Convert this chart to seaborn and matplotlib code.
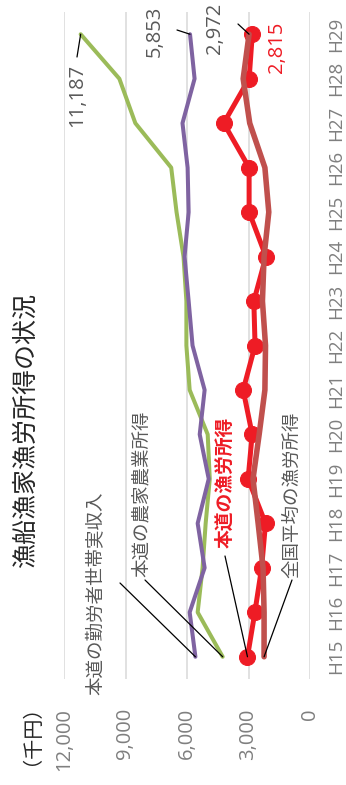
import numpy as np
import pandas as pd
import matplotlib
matplotlib.use("Agg")
import matplotlib.pyplot as plt
import seaborn as sns

# ---- data (千円) ----
years = ["H15", "H16", "H17", "H18", "H19", "H20", "H21", "H22",
         "H23", "H24", "H25", "H26", "H27", "H28", "H29"]
farm_income = [4260, 5480, 5240, 5090, 4890, 4990, 5870, 6030,
               6030, 6170, 6510, 6770, 8520, 9300, 11187]
worker_income = [5590, 5870, 5140, 5480, 4940, 5380, 5140, 5730,
                 5920, 6120, 5920, 5970, 6220, 5630, 5853]
hokkaido_fishing = [3050, 2690, 2360, 2170, 3020, 2820, 3260, 2680,
                    2740, 2150, 2970, 2970, 4210, 2970, 2815]
national_fishing = [2240, 2240, 2290, 2530, 2780, 2480, 2200, 2170,
                    2320, 2240, 2010, 2200, 2940, 3260, 2972]
value_ticks = [0, 3000, 6000, 9000, 12000]

series_names = ["本道の農家農業所得", "本道の勤労者世帯実収入",
                "本道の漁労所得", "全国平均の漁労所得"]

W, H = 346, 785
sns.set_style("white")
plt.rcParams["font.family"] = ["Open Sans", "Noto Sans CJK JP", "DejaVu Sans"]

fig = plt.figure(figsize=(W / 100, H / 100), dpi=100)
ax = fig.add_axes([64 / W, (H - 679) / H, (310 - 64) / W, (679 - 12) / H])

pos = np.arange(len(years))
df = pd.DataFrame({"pos": pos, "farm": farm_income, "worker": worker_income,
                   "hk": hokkaido_fishing, "nat": national_fishing})

GREEN, PURPLE, RED, BROWN = "#9BBB59", "#7F63A1", "#EE1C25", "#C0504D"
common = dict(ax=ax, sort=False, estimator=None, orient="y")
sns.lineplot(data=df, x="farm", y="pos", color=GREEN, lw=2.9,
             solid_joinstyle="round", **common)
sns.lineplot(data=df, x="worker", y="pos", color=PURPLE, lw=2.9,
             solid_joinstyle="round", **common)
sns.lineplot(data=df, x="hk", y="pos", color=RED, lw=3.6, marker="o",
             markersize=11.5, markeredgecolor=RED, markerfacecolor=RED,
             solid_joinstyle="round", **common)
sns.lineplot(data=df, x="nat", y="pos", color=BROWN, lw=4.0,
             solid_joinstyle="round", **common)

ax.set_xlim(12000, 0)
ax.set_ylim(-0.5, len(years) - 0.5)
ax.set_xlabel("")
ax.set_ylabel("")
for s in ax.spines.values():
    s.set_visible(False)
ax.grid(axis="x", color="#D9D9D9", lw=1.1)
ax.grid(axis="y", visible=False)

TICK_C = "#7F7F7F"
ax.set_xticks(value_ticks)
ax.set_xticklabels([f"{t:,}" for t in value_ticks], rotation=90,
                   va="top", ha="center", color=TICK_C, fontsize=14.5)
ax.tick_params(axis="x", length=0, pad=21)
ax.yaxis.tick_right()
ax.set_yticks(pos)
ax.set_yticklabels(years, rotation=90, va="center", ha="left",
                   color=TICK_C, fontsize=13.5)
ax.tick_params(axis="y", length=0, pad=12)


def ftxt(x, y, s, **kw):
    fig.text(x / W, 1 - y / H, s, rotation=90, ha="center", va="center", **kw)


def leader(start, value, p, color="black", lw=0.9):
    ax.annotate("", xy=(value, p), xycoords="data",
                xytext=(start[0], H - start[1]), textcoords="figure pixels",
                arrowprops=dict(arrowstyle="-", color=color, lw=lw,
                                shrinkA=0, shrinkB=0))


ftxt(26, 430, "漁船漁家漁労所得の状況", fontsize=18, color="#262626")
ftxt(22, 725, "（千円）", fontsize=14.5, color="#262626")

LAB_C = "#595959"
# series labels
ftxt(97, 593, series_names[1], fontsize=13.3, color=LAB_C)
leader((120, 583), worker_income[0], pos[0])
ftxt(142, 494, series_names[0], fontsize=13.3, color=LAB_C)
leader((145, 580), farm_income[0], pos[0])
ftxt(225, 482, series_names[2], fontsize=13.5, color=RED, fontweight="bold")
leader((225, 556), hokkaido_fishing[0], pos[0])
ftxt(292, 495, series_names[3], fontsize=13.3, color=LAB_C)
leader((292, 580), national_fishing[0], pos[0])

# value labels at last year
ftxt(77, 95, f"{farm_income[-1]:,}", fontsize=14.5, color=LAB_C)
leader((77, 57), farm_income[-1], pos[-1])
ftxt(155, 31, f"{worker_income[-1]:,}", fontsize=14.5, color=LAB_C)
leader((177, 30), worker_income[-1], pos[-1])
ftxt(215, 28, f"{national_fishing[-1]:,}", fontsize=14.5, color=LAB_C)
leader((238, 24), national_fishing[-1], pos[-1])
ftxt(277, 47, f"{hokkaido_fishing[-1]:,}", fontsize=14.5, color=RED)

fig.savefig("out.png", dpi=100)
